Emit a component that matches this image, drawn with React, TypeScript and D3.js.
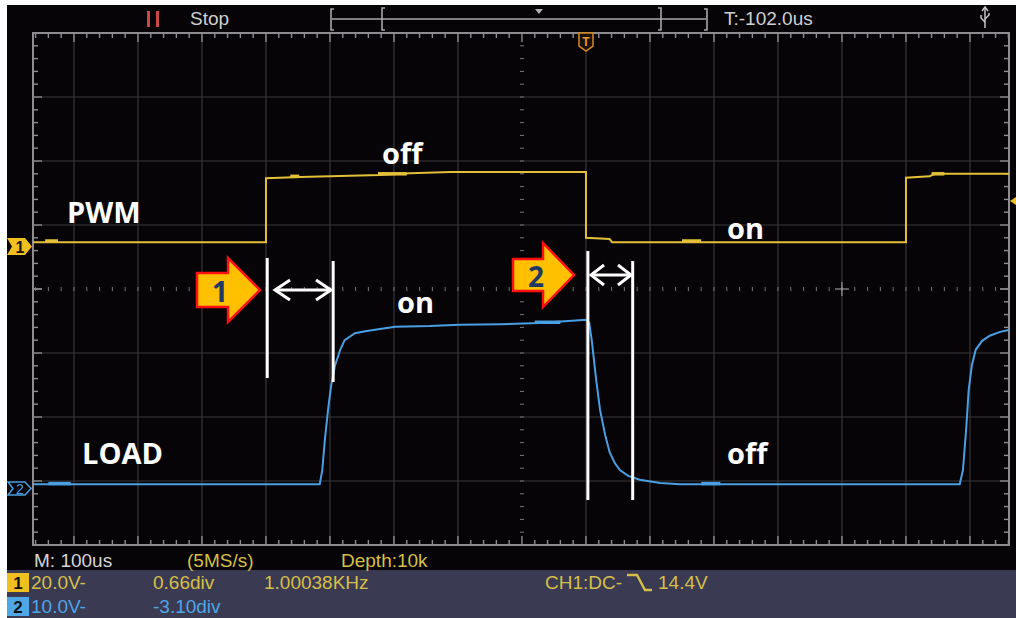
import React from "react";
import * as d3 from "d3";

// Time in µs (100 µs / div, 0 = screen centre), level in divisions above centre
const pwmTrace: [number, number][] = [
  [-764, 0.73], [-400, 0.73], [-400, 1.73], [-347, 1.75], [-222, 1.78], [-175, 1.81],
  [-112, 1.83], [100, 1.83], [100, 0.8], [137, 0.78], [141, 0.73], [600, 0.73],
  [600, 1.74], [637, 1.76], [645, 1.8], [761, 1.8],
];
const loadTrace: [number, number][] = [
  [-764, -3.05], [-316, -3.05], [-312, -2.83], [-308, -2.36], [-303, -1.89], [-298, -1.5],
  [-292, -1.19], [-284, -0.95], [-277, -0.8], [-261, -0.69], [-245, -0.66], [-222, -0.625],
  [-198, -0.59], [-144, -0.58], [-97, -0.56], [-34, -0.55], [28, -0.53], [100, -0.48],
  [105, -0.52], [109, -0.8], [116, -1.42], [122, -1.89], [130, -2.28], [137, -2.55],
  [145, -2.72], [153, -2.83], [166, -2.92], [184, -2.98], [216, -3.03], [247, -3.05],
  [684, -3.05], [689, -2.83], [694, -2.2], [698, -1.58], [703, -1.19], [709, -0.95],
  [719, -0.81], [731, -0.73], [747, -0.67], [761, -0.64],
];
// short noisy (thicker) stretches: [t0, t1, level]
const pwmGlitches: [number, number, number][] = [
  [-745, -725, 0.75], [-362, -348, 1.76], [-225, -180, 1.8], [250, 280, 0.75], [640, 660, 1.8],
];
const loadGlitches: [number, number, number][] = [
  [-740, -705, -3.04], [20, 60, -0.52], [280, 310, -3.04],
];

const statusTop = ["Stop", "T:-102.0us"];
const infoRow0 = ["M: 100us", "(5MS/s)", "Depth:10k"];
const ch1Info = ["20.0V-", "0.66div", "1.00038KHz", "CH1:DC-", "14.4V"];
const ch2Info = ["10.0V-", "-3.10div"];
const annot = ["PWM", "off", "on", "on", "LOAD", "off"];

const W = 1016;
const H = 618;
const YEL = "#e3bf3a";
const BLU = "#4a9fe2";
const TXTY = "#d6bf48";
const TXTB = "#4ea6e6";
const GRID = "#383639";
const EDGE = "#8e8c90";
const UIF = "'Liberation Sans', Arial, sans-serif";
const ANF = "'Open Sans', sans-serif";

function blockArrow(L: number, xh: number, T: number, c: number, h1: number, h2: number) {
  return `M${L},${c - h1}L${xh},${c - h1}L${xh},${c - h2}L${T},${c}L${xh},${c + h2}L${xh},${c + h1}L${L},${c + h1}Z`;
}

export default function App() {
  const x = d3.scaleLinear().domain([-764, 761]).range([33, 1009]);
  const y = d3.scaleLinear().domain([-4, 4]).range([545, 33]);
  const line = d3.line<[number, number]>().x((d) => x(d[0])).y((d) => y(d[1]));

  const majorT = d3.range(-7, 8).filter((k) => k !== 0).map((k) => k * 100);
  const majorV = [-3, -2, -1, 1, 2, 3];
  const minorT = d3.range(-760, 761, 20);
  const minorV = d3.range(-38, 39, 2).map((v) => v / 10);

  const x0 = 33, x1 = 1009, y0 = 33, y1 = 545;

  return (
    <svg width={W} height={H} style={{ position: "absolute", left: 0, top: 0, display: "block" }}>
      <rect x={0} y={0} width={W} height={H} fill="#ffffff" />
      <rect x={7} y={5} width={W - 7} height={H - 5} fill="#060407" />
      <rect x={7} y={570} width={W - 7} height={48} fill="#3a3a52" />

      {/* grid */}
      {majorT.map((t) => (
        <line key={"gv" + t} x1={x(t)} x2={x(t)} y1={y0} y2={y1} stroke={GRID} strokeWidth={1.2} />
      ))}
      {majorV.map((v) => (
        <line key={"gh" + v} x1={x0} x2={x1} y1={y(v)} y2={y(v)} stroke={GRID} strokeWidth={1.2} />
      ))}
      {minorT.map((t) => (
        <line key={"cd" + t} x1={x(t)} x2={x(t)} y1={y(0) - 2} y2={y(0) + 2} stroke="#7a787c" strokeWidth={1} />
      ))}
      {minorV.map((v) => (
        <line key={"cv" + v} x1={x(0) - 2} x2={x(0) + 2} y1={y(v)} y2={y(v)} stroke="#7a787c" strokeWidth={1} />
      ))}
      <line x1={x(500) - 7} x2={x(500) + 7} y1={y(0)} y2={y(0)} stroke="#9a989c" strokeWidth={1.2} />
      <line x1={x(500)} x2={x(500)} y1={y(0) - 7} y2={y(0) + 7} stroke="#9a989c" strokeWidth={1.2} />

      {/* edge ticks */}
      {minorT.map((t) => {
        const len = t % 100 === 0 ? 9 : 5;
        return (
          <g key={"et" + t}>
            <line x1={x(t)} x2={x(t)} y1={y0} y2={y0 + len} stroke={EDGE} strokeWidth={1.4} />
            <line x1={x(t)} x2={x(t)} y1={y1} y2={y1 - len} stroke={EDGE} strokeWidth={1.4} />
          </g>
        );
      })}
      {minorV.map((v) => {
        const len = Math.abs(Math.round(v * 10)) % 10 === 0 ? 9 : 5;
        return (
          <g key={"ev" + v}>
            <line x1={x0} x2={x0 + len} y1={y(v)} y2={y(v)} stroke={EDGE} strokeWidth={1.4} />
            <line x1={x1} x2={x1 - len} y1={y(v)} y2={y(v)} stroke={EDGE} strokeWidth={1.4} />
          </g>
        );
      })}
      {[0].map((v) => (
        <g key="c0">
          <line x1={x0} x2={x0 + 9} y1={y(v)} y2={y(v)} stroke={EDGE} strokeWidth={1.4} />
          <line x1={x1} x2={x1 - 9} y1={y(v)} y2={y(v)} stroke={EDGE} strokeWidth={1.4} />
        </g>
      ))}
      <rect x={x0} y={y0} width={x1 - x0} height={y1 - y0} fill="none" stroke={EDGE} strokeWidth={2} />

      {/* traces */}
      <path d={line(pwmTrace) || ""} fill="none" stroke={YEL} strokeWidth={2} />
      {pwmGlitches.map((g, i) => (
        <line key={"pg" + i} x1={x(g[0])} x2={x(g[1])} y1={y(g[2])} y2={y(g[2])} stroke={YEL} strokeWidth={3.5} />
      ))}
      <path d={line(loadTrace) || ""} fill="none" stroke={BLU} strokeWidth={2} />
      {loadGlitches.map((g, i) => (
        <line key={"lg" + i} x1={x(g[0])} x2={x(g[1])} y1={y(g[2])} y2={y(g[2])} stroke={BLU} strokeWidth={3.5} />
      ))}

      {/* channel markers */}
      <path d="M7,238L25,238L32,246.5L25,255L7,255L12,246.5Z" fill="#f0c020" />
      <text x={20} y={253} fontFamily={UIF} fontSize={16} fontWeight={700} fill="#1a1400" textAnchor="middle">1</text>
      <path d="M8,482L25,482L31,488.5L25,495L8,495L13,488.5Z" fill="none" stroke={BLU} strokeWidth={1.5} />
      <text x={20} y={494} fontFamily={UIF} fontSize={14} fill={BLU} textAnchor="middle">2</text>
      <path d="M1010,201L1016,197L1016,205Z" fill="#f0c020" />

      {/* trigger marker */}
      <path d="M579,33L593,33L593,46L586,51L579,46Z" fill="#1a1006" stroke="#d48a28" strokeWidth={1.5} />
      <text x={586} y={46} fontFamily={UIF} fontSize={12} fontWeight={700} fill="#e09a30" textAnchor="middle">T</text>

      {/* top status bar */}
      <rect x={147} y={11} width={3} height={16} fill="#c84848" />
      <rect x={156} y={11} width={3} height={16} fill="#c84848" />
      <text x={190} y={25} fontFamily={UIF} fontSize={19} fill="#d0d0d0">{statusTop[0]}</text>
      <g stroke="#a8a8a8" strokeWidth={1.6} fill="none">
        <path d="M334,9L331,9L331,30L334,30" />
        <path d="M385,8L382,8L382,30L385,30" />
        <path d="M658,8L661,8L661,30L658,30" />
        <path d="M704,9L707,9L707,30L704,30" />
        <line x1={332} x2={706} y1={19} y2={19} />
      </g>
      <path d="M535,9L543,9L539,14Z" fill="#b0b0b0" />
      <text x={724} y={25} fontFamily={UIF} fontSize={19} fill="#d0d0d0">{statusTop[1]}</text>
      <g stroke="#d0d0d0" strokeWidth={1.4} fill="none">
        <line x1={985} x2={985} y1={8} y2={28} />
        <path d="M982,11L985,7L988,11" />
        <path d="M985,22L981,18L981,15" />
        <path d="M985,19L989,15L989,13" />
      </g>

      {/* bottom info */}
      <text x={34} y={567} fontFamily={UIF} fontSize={19} fill="#d6d6d6">{infoRow0[0]}</text>
      <text x={187} y={567} fontFamily={UIF} fontSize={19} fill={TXTY}>{infoRow0[1]}</text>
      <text x={341} y={567} fontFamily={UIF} fontSize={19} fill={TXTY}>{infoRow0[2]}</text>

      <rect x={7} y={573} width={22} height={19} fill="#f0c020" />
      <text x={18} y={589} fontFamily={UIF} fontSize={17} fontWeight={700} fill="#111" textAnchor="middle">1</text>
      <text x={31} y={589} fontFamily={UIF} fontSize={19} fill={TXTY}>{ch1Info[0]}</text>
      <text x={153} y={589} fontFamily={UIF} fontSize={19} fill={TXTY}>{ch1Info[1]}</text>
      <text x={264} y={589} fontFamily={UIF} fontSize={19} fill={TXTY}>{ch1Info[2]}</text>
      <text x={545} y={589} fontFamily={UIF} fontSize={19} fill={TXTY}>{ch1Info[3]}</text>
      <path d="M627,575L637,575L645,590L652,590" fill="none" stroke={TXTY} strokeWidth={2.4} />
      <text x={658} y={589} fontFamily={UIF} fontSize={19} fill={TXTY}>{ch1Info[4]}</text>

      <rect x={7} y={597} width={22} height={19} fill="#4ea8e8" />
      <text x={18} y={613} fontFamily={UIF} fontSize={17} fontWeight={700} fill="#111" textAnchor="middle">2</text>
      <text x={31} y={613} fontFamily={UIF} fontSize={19} fill={TXTB}>{ch2Info[0]}</text>
      <text x={153} y={613} fontFamily={UIF} fontSize={19} fill={TXTB}>{ch2Info[1]}</text>

      {/* annotations */}
      <g fontFamily={ANF} fontWeight={700} fontSize={29} fill="#ffffff">
        <text x={67} y={223}>{annot[0]}</text>
        <text x={382} y={164}>{annot[1]}</text>
        <text x={727} y={239}>{annot[2]}</text>
        <text x={397} y={313}>{annot[3]}</text>
        <text x={82} y={464}>{annot[4]}</text>
        <text x={727} y={464}>{annot[5]}</text>
      </g>

      <g stroke="#ffffff" strokeWidth={3} fill="none">
        <line x1={x(-398)} x2={x(-398)} y1={258} y2={378} />
        <line x1={x(-295)} x2={x(-295)} y1={261} y2={382} />
        <line x1={x(103)} x2={x(103)} y1={251} y2={500} />
        <line x1={x(173)} x2={x(173)} y1={261} y2={500} />
        <line x1={275} x2={331} y1={290} y2={290} />
        <path d="M290,280L275,290L290,300" />
        <path d="M316,280L331,290L316,300" />
        <line x1={591} x2={631} y1={275} y2={275} />
        <path d="M604,265L591,275L604,285" />
        <path d="M618,265L631,275L618,285" />
      </g>

      <path d={blockArrow(197, 228, 260, 290, 17, 32)} fill="#ffc000" stroke="#ff1010" strokeWidth={2.5} strokeLinejoin="miter" />
      <text x={220} y={302} fontFamily={ANF} fontWeight={700} fontSize={28} fill="#1f3864" textAnchor="middle">1</text>
      <path d={blockArrow(513, 543, 574, 275, 16, 32)} fill="#ffc000" stroke="#ff1010" strokeWidth={2.5} strokeLinejoin="miter" />
      <text x={536} y={287} fontFamily={ANF} fontWeight={700} fontSize={28} fill="#1f3864" textAnchor="middle">2</text>
    </svg>
  );
}
